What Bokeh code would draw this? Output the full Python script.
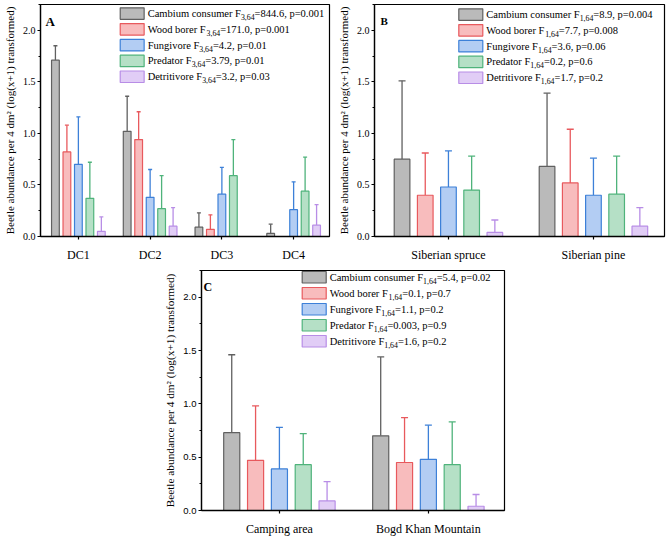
import numpy as np
from bokeh.plotting import figure
from bokeh.models import (ColumnDataSource, Range1d, FixedTicker, SingleIntervalTicker,
                          NumeralTickFormatter, Whisker, TeeHead, Spacer)
from bokeh.layouts import row, column
from bokeh.core.properties import value
from bokeh.embed import file_html
from bokeh.resources import INLINE

# ---- data -------------------------------------------------------------
groups = ["Cambium consumer", "Wood borer", "Fungivore", "Predator", "Detritivore"]

# A: decay classes
decay_classes = ["DC1", "DC2", "DC3", "DC4"]
decay_mean = [
    [1.71, 1.02, 0.09, 0.03],   # Cambium consumer
    [0.82, 0.94, 0.07, 0.00],   # Wood borer
    [0.70, 0.38, 0.41, 0.26],   # Fungivore
    [0.37, 0.27, 0.59, 0.44],   # Predator
    [0.05, 0.10, 0.00, 0.11],   # Detritivore
]
decay_err = [
    [0.14, 0.34, 0.14, 0.09],
    [0.26, 0.27, 0.14, 0.00],
    [0.46, 0.27, 0.26, 0.27],
    [0.35, 0.32, 0.35, 0.33],
    [0.14, 0.18, 0.00, 0.20],
]
decay_F = ["844.6", "171.0", "4.2", "3.79", "3.2"]
decay_p = ["0.001", "0.001", "0.01", "0.01", "0.03"]

# B: tree species
species = ["Siberian spruce", "Siberian pine"]
species_mean = [
    [0.75, 0.68],
    [0.40, 0.52],
    [0.48, 0.40],
    [0.45, 0.41],
    [0.04, 0.10],
]
species_err = [
    [0.76, 0.71],
    [0.41, 0.52],
    [0.35, 0.36],
    [0.33, 0.37],
    [0.12, 0.18],
]
species_F = ["8.9", "7.7", "3.6", "0.2", "1.7"]
species_p = ["0.004", "0.008", "0.06", "0.6", "0.2"]

# C: sites
sites = ["Camping area", "Bogd Khan Mountain"]
site_mean = [
    [0.73, 0.70],
    [0.47, 0.45],
    [0.39, 0.48],
    [0.43, 0.43],
    [0.09, 0.04],
]
site_err = [
    [0.73, 0.74],
    [0.51, 0.42],
    [0.39, 0.32],
    [0.29, 0.40],
    [0.18, 0.11],
]
site_F = ["5.4", "0.1", "1.1", "0.003", "1.6"]
site_p = ["0.02", "0.7", "0.2", "0.9", "0.2"]

# ---- style ------------------------------------------------------------
fill_colors = ["#bababa", "#f8bcbd", "#b3cdf3", "#b5e0c6", "#e1cdf6"]
line_colors = ["#606060", "#e8595d", "#3d80d8", "#4fb37b", "#b88de6"]
SERIF = "Liberation Serif"
SANS = "Liberation Sans"
Y_TOP = 2.25
PITCH = 0.16
BAR_W = 0.108
Y_TITLE = "Beetle abundance per 4 dm\u00b2 (log(x+1) transformed)"

# Times-metric advance widths (per 1000 em) for laying out the legend text
TIMES = {' ': 250, '=': 564, ',': 250, '.': 250, 'p': 500, 'F': 556, 'C': 667,
         'a': 444, 'm': 778, 'b': 500, 'i': 278, 'u': 500, 'c': 444, 'o': 500,
         'n': 500, 's': 389, 'e': 444, 'r': 333, 'W': 944, 'd': 500, 'g': 500,
         'v': 500, 'P': 556, 't': 278, 'D': 722, 'f': 333, 'l': 278}
for ch in "0123456789":
    TIMES[ch] = 500


def text_width(s, size):
    return sum(TIMES.get(c, 500) for c in s) * size / 1000.0


def panel(cats, means, errs, F_vals, p_vals, df, letter, xr, W, H, borders,
          legend_box, cap, tick_font, tick_size, title_size, letter_size):
    bl, br, bt, bb = borders
    p = figure(width=W, height=H, x_range=Range1d(*xr), y_range=Range1d(0, Y_TOP),
               output_backend="svg", toolbar_location=None,
               min_border_left=bl, min_border_right=br,
               min_border_top=bt, min_border_bottom=bb)
    fw = W - bl - br
    fh = H - bt - bb

    def dx(px):
        return xr[0] + px / fw * (xr[1] - xr[0])

    def dy(px):
        return Y_TOP - px / fh * Y_TOP

    pos = np.arange(1, len(cats) + 1)
    for j, g in enumerate(groups):
        m = np.array(means[j], dtype=float)
        e = np.array(errs[j], dtype=float)
        keep = m > 0
        x = pos + (j - 2) * PITCH
        src = ColumnDataSource(dict(x=x[keep], top=m[keep], upper=(m + e)[keep]))
        p.vbar(x="x", top="top", bottom=0, width=BAR_W, source=src,
               fill_color=fill_colors[j], line_color=line_colors[j], line_width=1.2)
        p.add_layout(Whisker(source=src, base="x", lower="top", upper="upper",
                             dimension="height", line_color=line_colors[j], line_width=1.3,
                             lower_head=None,
                             upper_head=TeeHead(size=cap, line_color=line_colors[j],
                                                line_width=1.3)))

    # legend drawn by hand so the F statistic can carry its subscript
    lx, ly, pitch = legend_box
    main_size, sub_size = 10.5, 7.8
    tx = lx + 24 + 3.5
    mx, my, mt, mo = [], [], [], []
    sx, sy, st, so = [], [], [], []
    for j, g in enumerate(groups):
        top_px = ly + j * pitch
        p.quad(left=[dx(lx)], right=[dx(lx + 24)], top=[dy(top_px)], bottom=[dy(top_px + 11.5)],
               fill_color=fill_colors[j], line_color=line_colors[j], line_width=1.2)
        pre = g + " F"
        suf = "=" + F_vals[j] + ", p=" + p_vals[j]
        w_pre = text_width(pre, main_size)
        w_sub = text_width(df, sub_size)
        yc = dy(top_px + 5.75)
        mx += [dx(tx), dx(tx)]
        my += [yc, yc]
        mt += [pre, suf]
        mo += [0.0, w_pre + w_sub]
        sx.append(dx(tx))
        sy.append(yc)
        st.append(df)
        so.append(w_pre)
    p.text(x="x", y="y", text="t", x_offset="o",
           source=ColumnDataSource(dict(x=mx, y=my, t=mt, o=mo)),
           text_font=value(SERIF), text_font_size=f"{main_size}px",
           text_baseline="middle", text_align="left", text_color="black")
    p.text(x="x", y="y", text="t", x_offset="o", y_offset=3.5,
           source=ColumnDataSource(dict(x=sx, y=sy, t=st, o=so)),
           text_font=value(SERIF), text_font_size=f"{sub_size}px",
           text_baseline="middle", text_align="left", text_color="black")

    # panel letter
    p.text(x=[dx(letter[1])], y=[dy(letter[2])], text=[letter[0]],
           text_font=value(SERIF), text_font_style="bold",
           text_font_size=f"{letter_size}px", text_baseline="alphabetic",
           text_color="black")

    # axes
    p.xgrid.visible = False
    p.ygrid.visible = False
    p.outline_line_color = "black"
    p.outline_line_width = 1.2
    for ax in (p.xaxis[0], p.yaxis[0]):
        ax.axis_line_color = "black"
        ax.axis_line_width = 1.3
        ax.major_tick_line_color = "black"
        ax.major_tick_line_width = 1.2
        ax.minor_tick_line_color = "black"
        ax.minor_tick_line_width = 1.0
        ax.major_tick_in = 0
        ax.major_tick_out = 3
        ax.minor_tick_in = 0
        ax.minor_tick_out = 2
        ax.major_label_text_color = "black"

    p.xaxis.ticker = FixedTicker(ticks=[int(v) for v in pos], minor_ticks=[])
    p.xaxis.major_label_overrides = {int(v): c for v, c in zip(pos, cats)}
    p.xaxis.major_label_text_font = SERIF
    p.xaxis.major_label_text_font_size = "12px"
    p.xaxis.major_label_standoff = 8

    p.yaxis.ticker = SingleIntervalTicker(interval=0.5, num_minor_ticks=2)
    p.yaxis.formatter = NumeralTickFormatter(format="0.0")
    p.yaxis.major_label_text_font = tick_font
    p.yaxis.major_label_text_font_size = f"{tick_size}px"
    p.yaxis.major_label_standoff = 2
    p.yaxis.axis_label = Y_TITLE
    p.yaxis.axis_label_text_font = SERIF
    p.yaxis.axis_label_text_font_style = "normal"
    p.yaxis.axis_label_text_font_size = f"{title_size}px"
    p.yaxis.axis_label_text_color = "black"
    p.yaxis.axis_label_standoff = 4
    return p


pA = panel(decay_classes, decay_mean, decay_err, decay_F, decay_p, "3,64",
           ("A", 5, 16.5), (0.472, 4.50), 334, 268, (39, 5, 4, 32),
           (80, 3.3, 15.8), 4, SERIF, 10, 11, 13)
pB = panel(species, species_mean, species_err, species_F, species_p, "1,64",
           ("B", 6, 16), (0.49, 2.49), 335, 268, (40, 5, 4, 32),
           (84.3, 4.3, 15.8), 7, SERIF, 10, 11, 11)
pC = panel(sites, site_mean, site_err, site_F, site_p, "1,64",
           ("C", 2, 16), (0.477, 2.511), 350, 270, (41, 6, 2, 28),
           (100.7, 1.0, 16.0), 7, SANS, 9.5, 11.3, 12)

layout = column(row(pA, pB), row(Spacer(width=160, height=270), pC))

with open("out.html", "w") as f:
    f.write(file_html(layout, INLINE))
